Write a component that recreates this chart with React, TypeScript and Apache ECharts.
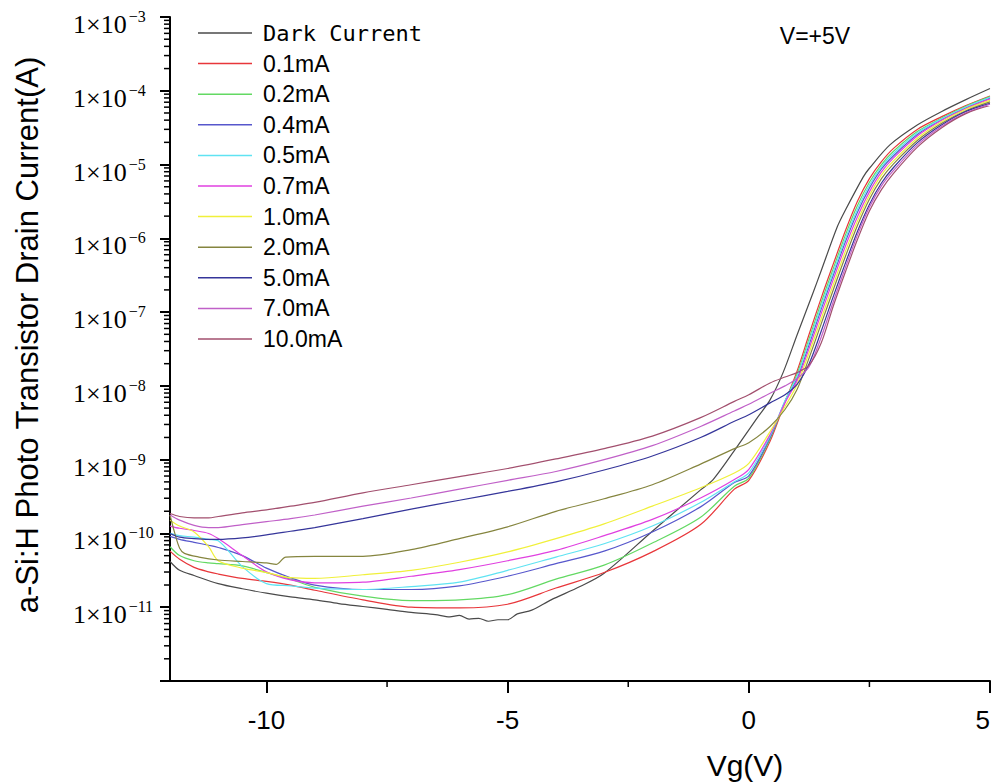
import React, { useEffect, useRef } from "react";
import * as echarts from "echarts";

// ---------- data (log10 of drain current) ----------
const SERIES_NAMES = [
  "Dark Current", "0.1mA", "0.2mA", "0.4mA", "0.5mA", "0.7mA",
  "1.0mA", "2.0mA", "5.0mA", "7.0mA", "10.0mA",
];
const COLORS = [
  "#4a4a4a", "#e8363a", "#63d963", "#5757cc", "#5fe3f2", "#e040e0",
  "#f0f03a", "#85853f", "#35359a", "#c060c8", "#a24f6e",
];

// shared gate-voltage grid for the illuminated curves
const VG = [
  -12, -11.8, -11.5, -11.2, -11, -10.5, -10, -9.5, -9, -8, -7, -6, -5, -4, -3, -2, -1, -0.3, 0,
  0.44, 0.75, 1.0, 1.25, 1.5, 1.75, 2.0, 2.25, 2.5, 2.75, 3.0, 3.5, 4.0, 4.5, 5.0,
];
const LOG_01 = [
  -10.24, -10.35, -10.46, -10.52, -10.55, -10.61, -10.65, -10.70, -10.77, -10.90, -11.00, -11.01, -10.96, -10.74, -10.53, -10.25, -9.88, -9.40, -9.28,
  -8.75, -8.22, -7.80, -7.30, -6.81, -6.35, -5.90, -5.50, -5.19, -4.96, -4.78, -4.52, -4.35, -4.20, -4.07,
];
const LOG_02 = [
  -10.18, -10.30, -10.37, -10.40, -10.41, -10.44, -10.53, -10.62, -10.73, -10.85, -10.91, -10.90, -10.83, -10.62, -10.43, -10.13, -9.78, -9.36, -9.25,
  -8.72, -8.21, -7.84, -7.36, -6.87, -6.41, -5.96, -5.56, -5.24, -5.00, -4.82, -4.55, -4.37, -4.21, -4.08,
];
const LOG_04 = [
  -10.04, -10.08, -10.12, -10.16, -10.19, -10.30, -10.47, -10.60, -10.70, -10.76, -10.76, -10.71, -10.58, -10.41, -10.24, -9.98, -9.64, -9.31, -9.22,
  -8.70, -8.21, -7.90, -7.44, -6.96, -6.50, -6.05, -5.65, -5.32, -5.06, -4.88, -4.59, -4.39, -4.23, -4.10,
];
const LOG_05 = [
  -10.00, -10.03, -10.05, -10.08, -10.10, -10.45, -10.68, -10.71, -10.74, -10.76, -10.72, -10.66, -10.50, -10.32, -10.14, -9.90, -9.58, -9.30, -9.18,
  -8.68, -8.20, -7.87, -7.40, -6.92, -6.46, -6.01, -5.61, -5.28, -5.03, -4.85, -4.57, -4.38, -4.22, -4.09,
];
const LOG_07 = [
  -9.90, -9.93, -9.96, -10.00, -10.07, -10.30, -10.52, -10.63, -10.67, -10.66, -10.58, -10.49, -10.37, -10.23, -10.03, -9.81, -9.52, -9.27, -9.13,
  -8.66, -8.23, -7.93, -7.49, -7.02, -6.56, -6.11, -5.71, -5.37, -5.10, -4.91, -4.61, -4.40, -4.24, -4.11,
];
const LOG_10 = [
  -9.82, -9.90, -9.98, -10.18, -10.37, -10.47, -10.53, -10.60, -10.61, -10.56, -10.50, -10.39, -10.25, -10.07, -9.87, -9.63, -9.38, -9.18, -9.05,
  -8.62, -8.28, -7.98, -7.55, -7.09, -6.63, -6.18, -5.77, -5.42, -5.14, -4.95, -4.64, -4.42, -4.25, -4.13,
];
const LOG_50 = [
  -10.00, -10.05, -10.07, -10.08, -10.08, -10.06, -10.02, -9.97, -9.92, -9.80, -9.67, -9.55, -9.43, -9.30, -9.14, -8.95, -8.70, -8.48, -8.39,
  -8.23, -8.12, -7.98, -7.70, -7.26, -6.79, -6.34, -5.91, -5.54, -5.25, -5.04, -4.70, -4.46, -4.28, -4.17,
];
const LOG_70 = [
  -9.75, -9.82, -9.89, -9.92, -9.92, -9.88, -9.84, -9.80, -9.75, -9.63, -9.52, -9.40, -9.28, -9.16, -9.00, -8.81, -8.55, -8.34, -8.25,
  -8.10, -8.00, -7.90, -7.74, -7.34, -6.86, -6.40, -5.96, -5.58, -5.29, -5.08, -4.73, -4.48, -4.30, -4.18,
];
const LOG_100 = [
  -9.73, -9.77, -9.79, -9.79, -9.77, -9.72, -9.68, -9.63, -9.58, -9.45, -9.34, -9.23, -9.12, -8.99, -8.85, -8.68, -8.43, -8.21, -8.12,
  -7.96, -7.88, -7.82, -7.72, -7.42, -6.92, -6.46, -6.02, -5.63, -5.34, -5.12, -4.76, -4.50, -4.31, -4.20,
];

// 2.0mA curve (has a small step near -9.8 V)
const OLIVE_VG = [
  -12, -11.9, -11.8, -11.7, -11.4, -11, -10.5, -10, -9.8, -9.6, -9, -8, -7, -6, -5, -4, -3, -2, -1, -0.3, 0,
  0.44, 0.75, 1.0, 1.25, 1.5, 1.75, 2.0, 2.25, 2.5, 2.75, 3.0, 3.5, 4.0, 4.5, 5.0,
];
const LOG_20 = [
  -9.75, -10.0, -10.2, -10.27, -10.32, -10.36, -10.38, -10.40, -10.42, -10.32, -10.31, -10.31, -10.22, -10.07, -9.91, -9.70, -9.53, -9.34, -9.06, -8.85, -8.77,
  -8.55, -8.32, -8.05, -7.62, -7.16, -6.70, -6.25, -5.83, -5.47, -5.19, -4.99, -4.67, -4.44, -4.27, -4.15,
];

// dark current
const DARK_VG = [
  -12, -11.8, -11.5, -11, -10.5, -10, -9.5, -9, -8.5, -8, -7.5, -7, -6.5, -6.2, -6, -5.8, -5.6, -5.4, -5.2, -5, -4.8, -4.5, -4.1,
  -3.5, -3, -2, -1, -0.74, -0.25, 0.2, 0.44, 0.71, 1.0, 1.33, 1.5, 1.83, 2.0, 2.37, 2.5, 2.93, 3.5, 4.0, 4.5, 5.0,
];
const LOG_DARK = [
  -10.38, -10.50, -10.57, -10.68, -10.75, -10.81, -10.86, -10.90, -10.95, -10.99, -11.03, -11.07, -11.10, -11.13, -11.11, -11.16, -11.15, -11.19, -11.17, -11.17, -11.09, -11.04, -10.90,
  -10.72, -10.54, -9.97, -9.41, -9.27, -8.83, -8.41, -8.19, -7.82, -7.31, -6.74, -6.44, -5.85, -5.62, -5.17, -5.05, -4.73, -4.46, -4.28, -4.12, -3.97,
];

// axis ticks
const X_MAJOR = [-10, -5, 0, 5];
const X_MINOR = [-7.5, -2.5, 2.5];
const Y_DECADES = [-12, -11, -10, -9, -8, -7, -6, -5, -4];
const Y_MANTISSAS = [2, 3, 4, 5, 6, 7, 8, 9];

const CURVES: [number[], number[]][] = [
  [DARK_VG, LOG_DARK],
  [VG, LOG_01],
  [VG, LOG_02],
  [VG, LOG_04],
  [VG, LOG_05],
  [VG, LOG_07],
  [VG, LOG_10],
  [OLIVE_VG, LOG_20],
  [VG, LOG_50],
  [VG, LOG_70],
  [VG, LOG_100],
];

export default function App() {
  const ref = useRef<HTMLDivElement>(null);

  useEffect(() => {
    if (!ref.current) return;
    const chart = echarts.init(ref.current, undefined, { renderer: "svg" });

    const lineSeries = CURVES.map(([xs, logs], i) => ({
      type: "line",
      name: SERIES_NAMES[i],
      data: xs.map((v, j) => [v, Math.pow(10, logs[j])]),
      symbol: "none",
      showSymbol: false,
      smooth: 0.3,
      lineStyle: { width: 1.2, color: COLORS[i] },
      itemStyle: { color: COLORS[i] },
      z: 2,
    }));

    const minorData: number[][] = [];
    Y_DECADES.forEach((d) =>
      Y_MANTISSAS.forEach((m) => minorData.push([-12, m * Math.pow(10, d), 0]))
    );
    X_MINOR.forEach((v) => minorData.push([v, 1e-12, 1]));

    const option: any = {
      animation: false,
      backgroundColor: "#fff",
      grid: { left: 170, right: 3, top: 17, bottom: 101, containLabel: false, outerBoundsMode: "none" },
      legend: {
        data: SERIES_NAMES.map((n) => ({ name: n, icon: "rect" })),
        orient: "vertical",
        left: 198,
        top: 21,
        padding: 0,
        itemWidth: 54,
        itemHeight: 1.5,
        itemGap: 6.6,
        selectedMode: false,
        formatter: (n: string) => (n === "Dark Current" ? `{m|${n}}` : n),
        textStyle: {
          fontFamily: "Liberation Sans",
          fontSize: 23,
          lineHeight: 24,
          color: "#000",
          padding: [0, 0, 0, 6],
          rich: { m: { fontFamily: "DejaVu Sans Mono", fontSize: 22, lineHeight: 24, color: "#000" } },
        },
      },
      xAxis: {
        type: "value",
        min: -12,
        max: 5,
        axisLine: { show: true, onZero: false, lineStyle: { color: "#000", width: 2 } },
        axisTick: { show: true, customValues: X_MAJOR, length: 12, lineStyle: { color: "#000", width: 2 } },
        axisLabel: {
          customValues: X_MAJOR,
          fontFamily: "Liberation Sans",
          fontSize: 26,
          color: "#000",
          margin: 26,
          alignMaxLabel: "right",
        },
        splitLine: { show: false },
      },
      yAxis: {
        type: "log",
        logBase: 10,
        min: 1e-12,
        max: 1e-3,
        axisLine: { show: true, onZero: false, lineStyle: { color: "#000", width: 2 } },
        axisTick: { show: true, length: 10, lineStyle: { color: "#000", width: 2 } },
        splitLine: { show: false },
        axisLabel: {
          align: "left",
          margin: 97,
          padding: [12, 0, 0, 0],
          formatter: (v: number) => {
            const e = Math.round(Math.log10(v));
            if (e <= -12) return "";
            return `{a|1×10}{b|−${-e}}`;
          },
          rich: {
            a: { fontFamily: "Liberation Serif", fontSize: 26, color: "#000", verticalAlign: "bottom", lineHeight: 29 },
            b: { fontFamily: "Liberation Serif", fontSize: 16, color: "#000", verticalAlign: "top", lineHeight: 15, padding: [0, 0, 0, 2] },
          },
        },
      },
      graphic: [
        {
          type: "text",
          x: 815,
          y: 36,
          style: { text: "V=+5V", fontFamily: "Liberation Sans", fontSize: 23, fill: "#000", align: "center", verticalAlign: "middle" },
        },
        {
          type: "text",
          x: 745,
          y: 765,
          style: { text: "Vg(V)", fontFamily: "Liberation Sans", fontSize: 30, fill: "#000", align: "center", verticalAlign: "middle" },
        },
        {
          type: "text",
          x: 27,
          y: 335,
          rotation: Math.PI / 2,
          style: {
            text: "a-Si:H Photo Transistor Drain Current(A)",
            fontFamily: "Liberation Sans",
            fontSize: 31,
            fill: "#000",
            align: "center",
            verticalAlign: "middle",
          },
        },
      ],
      series: [
        ...lineSeries,
        {
          type: "custom",
          name: "minorTicks",
          coordinateSystem: "cartesian2d",
          silent: true,
          clip: false,
          z: 5,
          encode: { x: 0, y: 1 },
          data: minorData,
          renderItem: (_p: any, api: any) => {
            const pt = api.coord([api.value(0), api.value(1)]);
            const kind = api.value(2);
            const shape =
              kind === 0
                ? { x1: pt[0] - 6, y1: pt[1], x2: pt[0], y2: pt[1] }
                : { x1: pt[0], y1: pt[1], x2: pt[0], y2: pt[1] + 6 };
            return { type: "line", shape, style: { stroke: "#000", lineWidth: 1.5 } };
          },
        },
      ],
    };

    chart.setOption(option);
    return () => chart.dispose();
  }, []);

  return (
    <div
      ref={ref}
      style={{ position: "fixed", left: 0, top: 0, width: 993, height: 782, background: "#fff" }}
    />
  );
}
